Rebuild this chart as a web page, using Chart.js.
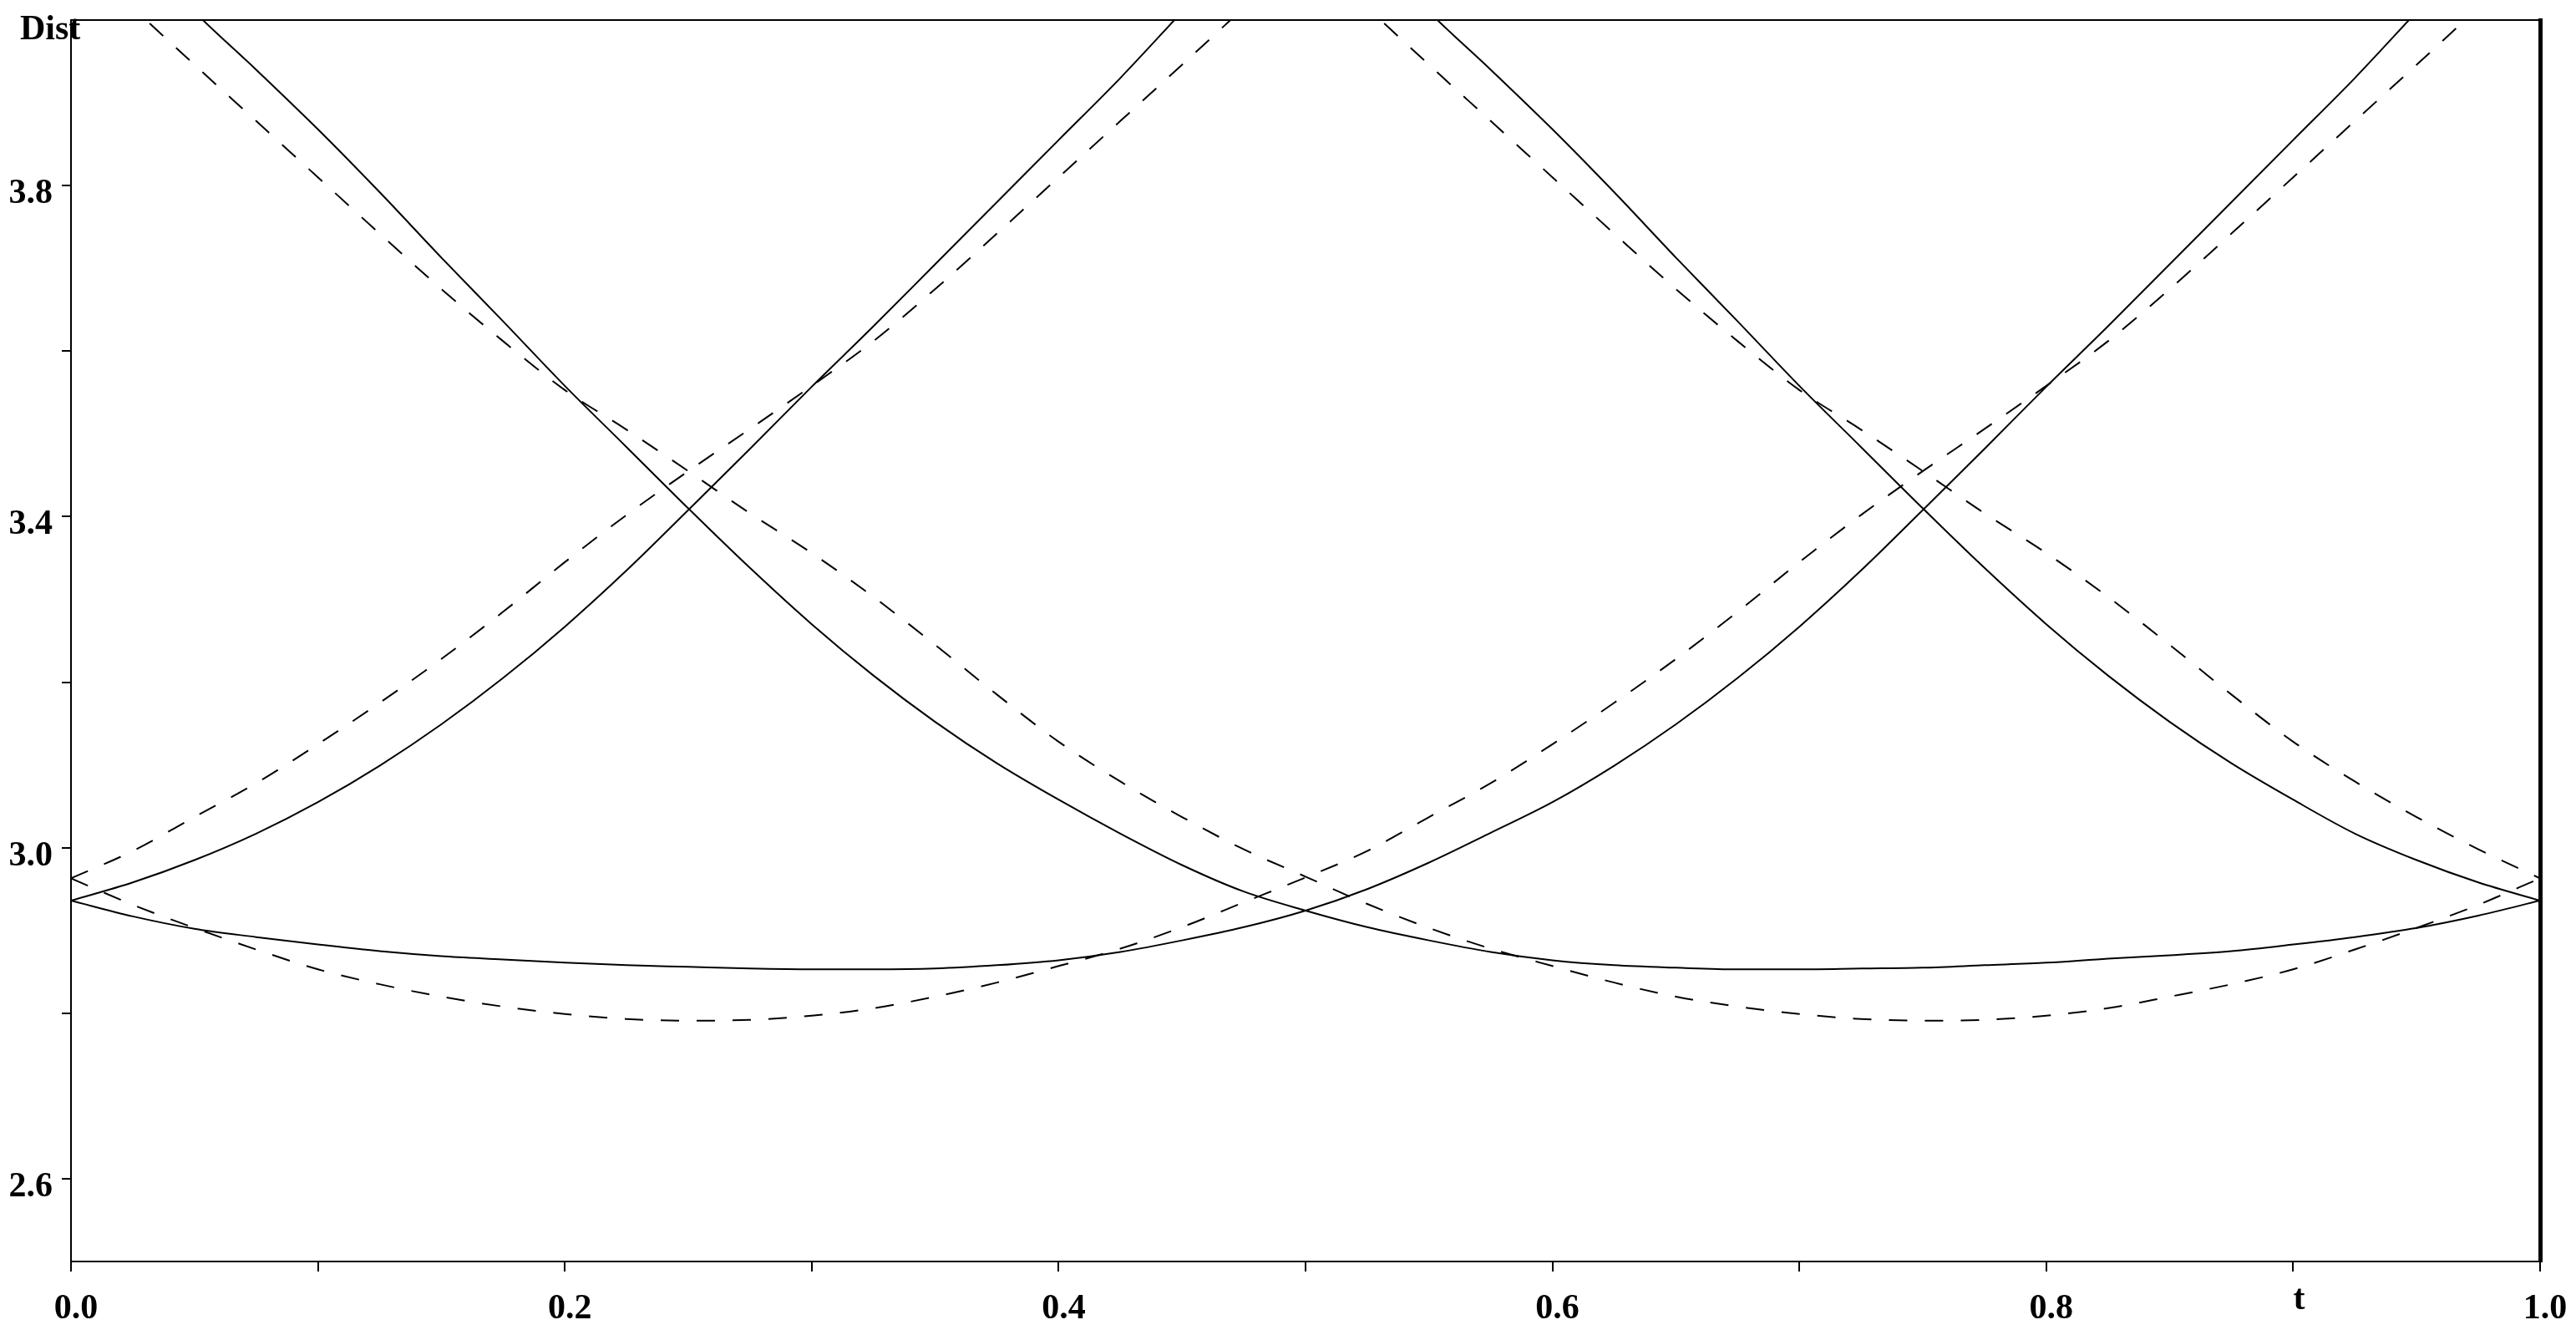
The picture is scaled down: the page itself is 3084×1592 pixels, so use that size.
<!DOCTYPE html>
<html>
<head>
<meta charset="utf-8">
<title>Dist vs t</title>
<script src="https://cdn.jsdelivr.net/npm/chart.js@4.4.1/dist/chart.umd.min.js"></script>
<style>
  html, body { margin: 0; padding: 0; background: #fff; }
  #chart { display: block; }
</style>
</head>
<body>
<canvas id="chart" width="3084" height="1592"></canvas>
<script>
// sample positions along t
const tValues = [0, 0.025, 0.05, 0.075, 0.1, 0.125, 0.15, 0.175, 0.2, 0.225, 0.25, 0.275, 0.3, 0.325, 0.35, 0.375, 0.4, 0.425, 0.45, 0.475, 0.5,
  0.525, 0.55, 0.575, 0.6, 0.625, 0.65, 0.675, 0.7, 0.725, 0.75, 0.775, 0.8, 0.825, 0.85, 0.875, 0.9, 0.925, 0.95, 0.975, 1.0];

// solid curves
const solidFlatThenRise = [2.936, 2.917, 2.902, 2.892, 2.883, 2.875, 2.869, 2.865, 2.861, 2.858, 2.856, 2.854, 2.853, 2.853, 2.854, 2.858, 2.864, 2.874, 2.888, 2.904, 2.924,
  2.950, 2.982, 3.018, 3.055, 3.099, 3.149, 3.205, 3.267, 3.335, 3.408, 3.482, 3.557, 3.630, 3.705, 3.780, 3.855, 3.930, 4.010, 4.090, 4.170];
const solidRise = [2.936, 2.958, 2.985, 3.017, 3.055, 3.099, 3.149, 3.205, 3.267, 3.335, 3.408, 3.482, 3.557, 3.630, 3.705, 3.780, 3.855, 3.930, 4.010, 4.090, null,
  null, null, null, null, null, null, null, null, null, null, null, null, null, null, null, null, null, null, null, null];
const solidFallThenFlat = [4.170, 4.090, 4.010, 3.940, 3.868, 3.792, 3.713, 3.636, 3.558, 3.484, 3.410, 3.338, 3.270, 3.208, 3.152, 3.102, 3.058, 3.017, 2.979, 2.947, 2.924,
  2.904, 2.888, 2.874, 2.864, 2.858, 2.855, 2.853, 2.853, 2.854, 2.855, 2.858, 2.861, 2.866, 2.870, 2.875, 2.883, 2.892, 2.903, 2.918, 2.936];
const solidFall = [null, null, null, null, null, null, null, null, null, null, null, null, null, null, null, null, null, null, null, null, 4.170,
  4.090, 4.010, 3.940, 3.868, 3.792, 3.713, 3.636, 3.558, 3.484, 3.410, 3.338, 3.270, 3.208, 3.152, 3.102, 3.058, 3.017, 2.985, 2.958, 2.936];

// dashed curves
const dashFlatThenRise = [2.963, 2.931, 2.903, 2.877, 2.853, 2.835, 2.820, 2.808, 2.799, 2.793, 2.791, 2.792, 2.797, 2.806, 2.820, 2.837, 2.857, 2.878, 2.904, 2.934, 2.964,
  2.996, 3.037, 3.078, 3.125, 3.175, 3.228, 3.285, 3.345, 3.402, 3.455, 3.506, 3.558, 3.612, 3.675, 3.742, 3.810, 3.878, 3.946, 4.015, 4.085];
const dashRise = [2.963, 2.996, 3.037, 3.078, 3.125, 3.175, 3.228, 3.285, 3.345, 3.402, 3.455, 3.506, 3.558, 3.612, 3.675, 3.742, 3.810, 3.878, 3.946, 4.015, 4.085,
  null, null, null, null, null, null, null, null, null, null, null, null, null, null, null, null, null, null, null, null];
const dashFallThenFlat = [4.085, 4.015, 3.946, 3.878, 3.810, 3.742, 3.675, 3.612, 3.553, 3.505, 3.455, 3.404, 3.356, 3.303, 3.245, 3.185, 3.128, 3.080, 3.037, 2.998, 2.965,
  2.932, 2.903, 2.878, 2.857, 2.837, 2.820, 2.808, 2.799, 2.793, 2.791, 2.792, 2.797, 2.806, 2.820, 2.835, 2.853, 2.877, 2.903, 2.931, 2.963];
const dashFall = [null, null, null, null, null, null, null, null, null, null, null, null, null, null, null, null, null, null, null, null, 4.085,
  4.015, 3.946, 3.878, 3.810, 3.742, 3.675, 3.612, 3.553, 3.505, 3.455, 3.404, 3.356, 3.303, 3.245, 3.185, 3.128, 3.080, 3.037, 2.998, 2.963];

// axis ticks (all get a tick mark, only some get a label)
const xTicks = [0, 0.1, 0.2, 0.3, 0.4, 0.5, 0.6, 0.7, 0.8, 0.9, 1.0];
const xLabeled = [0, 0.2, 0.4, 0.6, 0.8, 1.0];
const yTicks = [2.6, 2.8, 3.0, 3.2, 3.4, 3.6, 3.8];
const yLabeled = [2.6, 3.0, 3.4, 3.8];

const FONT = '"Liberation Serif", "DejaVu Serif", serif';
const DASH = [22, 21];

const toPoints = (series) => tValues.map((t, i) => ({ x: t, y: series[i] }));
const hasValue = (list, v) => list.some(item => Math.abs(item - v) < 1e-6);

function line(series, dashed) {
  return {
    data: toPoints(series),
    borderColor: '#000',
    borderWidth: 2,
    borderDash: dashed ? DASH : [],
    pointRadius: 0,
    fill: false,
    cubicInterpolationMode: 'monotone',
  };
}

// keep the plot box where the original has it, labels may hang outside
function noOverhang(scale) {
  scale.paddingTop = 0;
  scale.paddingBottom = 0;
  scale.paddingLeft = 0;
  scale.paddingRight = 0;
}

// axis names drawn as plain text, like the original
const axisNames = {
  id: 'axisNames',
  afterDraw(chart) {
    const ctx = chart.ctx;
    const xScale = chart.scales.x;
    ctx.save();
    ctx.fillStyle = '#000';
    ctx.font = 'bold 42px ' + FONT;
    ctx.textBaseline = 'alphabetic';
    ctx.textAlign = 'left';
    ctx.fillText('Dist', 24, 47);
    ctx.textAlign = 'center';
    ctx.fillText('t', xScale.getPixelForValue(0.9) + 7, 1567);
    ctx.restore();
  }
};

new Chart(document.getElementById('chart'), {
  type: 'line',
  data: {
    datasets: [
      line(solidFlatThenRise, false),
      line(solidRise, false),
      line(solidFallThenFlat, false),
      line(solidFall, false),
      line(dashFlatThenRise, true),
      line(dashRise, true),
      line(dashFallThenFlat, true),
      line(dashFall, true),
    ]
  },
  options: {
    responsive: false,
    animation: false,
    devicePixelRatio: 1,
    layout: { padding: { top: 24, right: 43, left: 0, bottom: 0 } },
    plugins: {
      legend: { display: false },
      tooltip: { enabled: false },
    },
    scales: {
      x: {
        type: 'linear',
        position: 'bottom',
        min: 0,
        max: 1,
        afterBuildTicks: (scale) => { scale.ticks = xTicks.map(v => ({ value: v })); },
        afterFit: (scale) => { scale.height = 82; noOverhang(scale); },
        grid: { drawOnChartArea: false, drawTicks: true, tickLength: 12, color: '#000', lineWidth: 2 },
        border: { display: true, color: '#000', width: 2 },
        ticks: {
          color: '#000',
          font: { family: FONT, size: 42, weight: 'bold' },
          padding: 20,
          labelOffset: 6,
          maxRotation: 0,
          autoSkip: false,
          callback: (value) => hasValue(xLabeled, value) ? value.toFixed(1) : '',
        },
      },
      y: {
        type: 'linear',
        position: 'left',
        min: 2.5,
        max: 4.0,
        afterBuildTicks: (scale) => { scale.ticks = yTicks.map(v => ({ value: v })); },
        afterFit: (scale) => { scale.width = 85; noOverhang(scale); },
        grid: { drawOnChartArea: false, drawTicks: true, tickLength: 11, color: '#000', lineWidth: 2 },
        border: { display: true, color: '#000', width: 2 },
        ticks: {
          color: '#000',
          font: { family: FONT, size: 42, weight: 'bold' },
          padding: 11,
          labelOffset: 10,
          autoSkip: false,
          callback: (value) => hasValue(yLabeled, value) ? value.toFixed(1) : '',
        },
      },
      // frame lines on top and right
      xTop: {
        type: 'linear',
        position: 'top',
        min: 0,
        max: 1,
        afterFit: (scale) => { scale.height = 0; noOverhang(scale); },
        grid: { display: false },
        ticks: { display: false },
        border: { display: true, color: '#000', width: 2 },
      },
      yRight: {
        type: 'linear',
        position: 'right',
        min: 2.5,
        max: 4.0,
        afterFit: (scale) => { scale.width = 0; noOverhang(scale); },
        grid: { display: false },
        ticks: { display: false },
        border: { display: true, color: '#000', width: 5 },
      },
    },
  },
  plugins: [axisNames],
});
</script>
</body>
</html>
